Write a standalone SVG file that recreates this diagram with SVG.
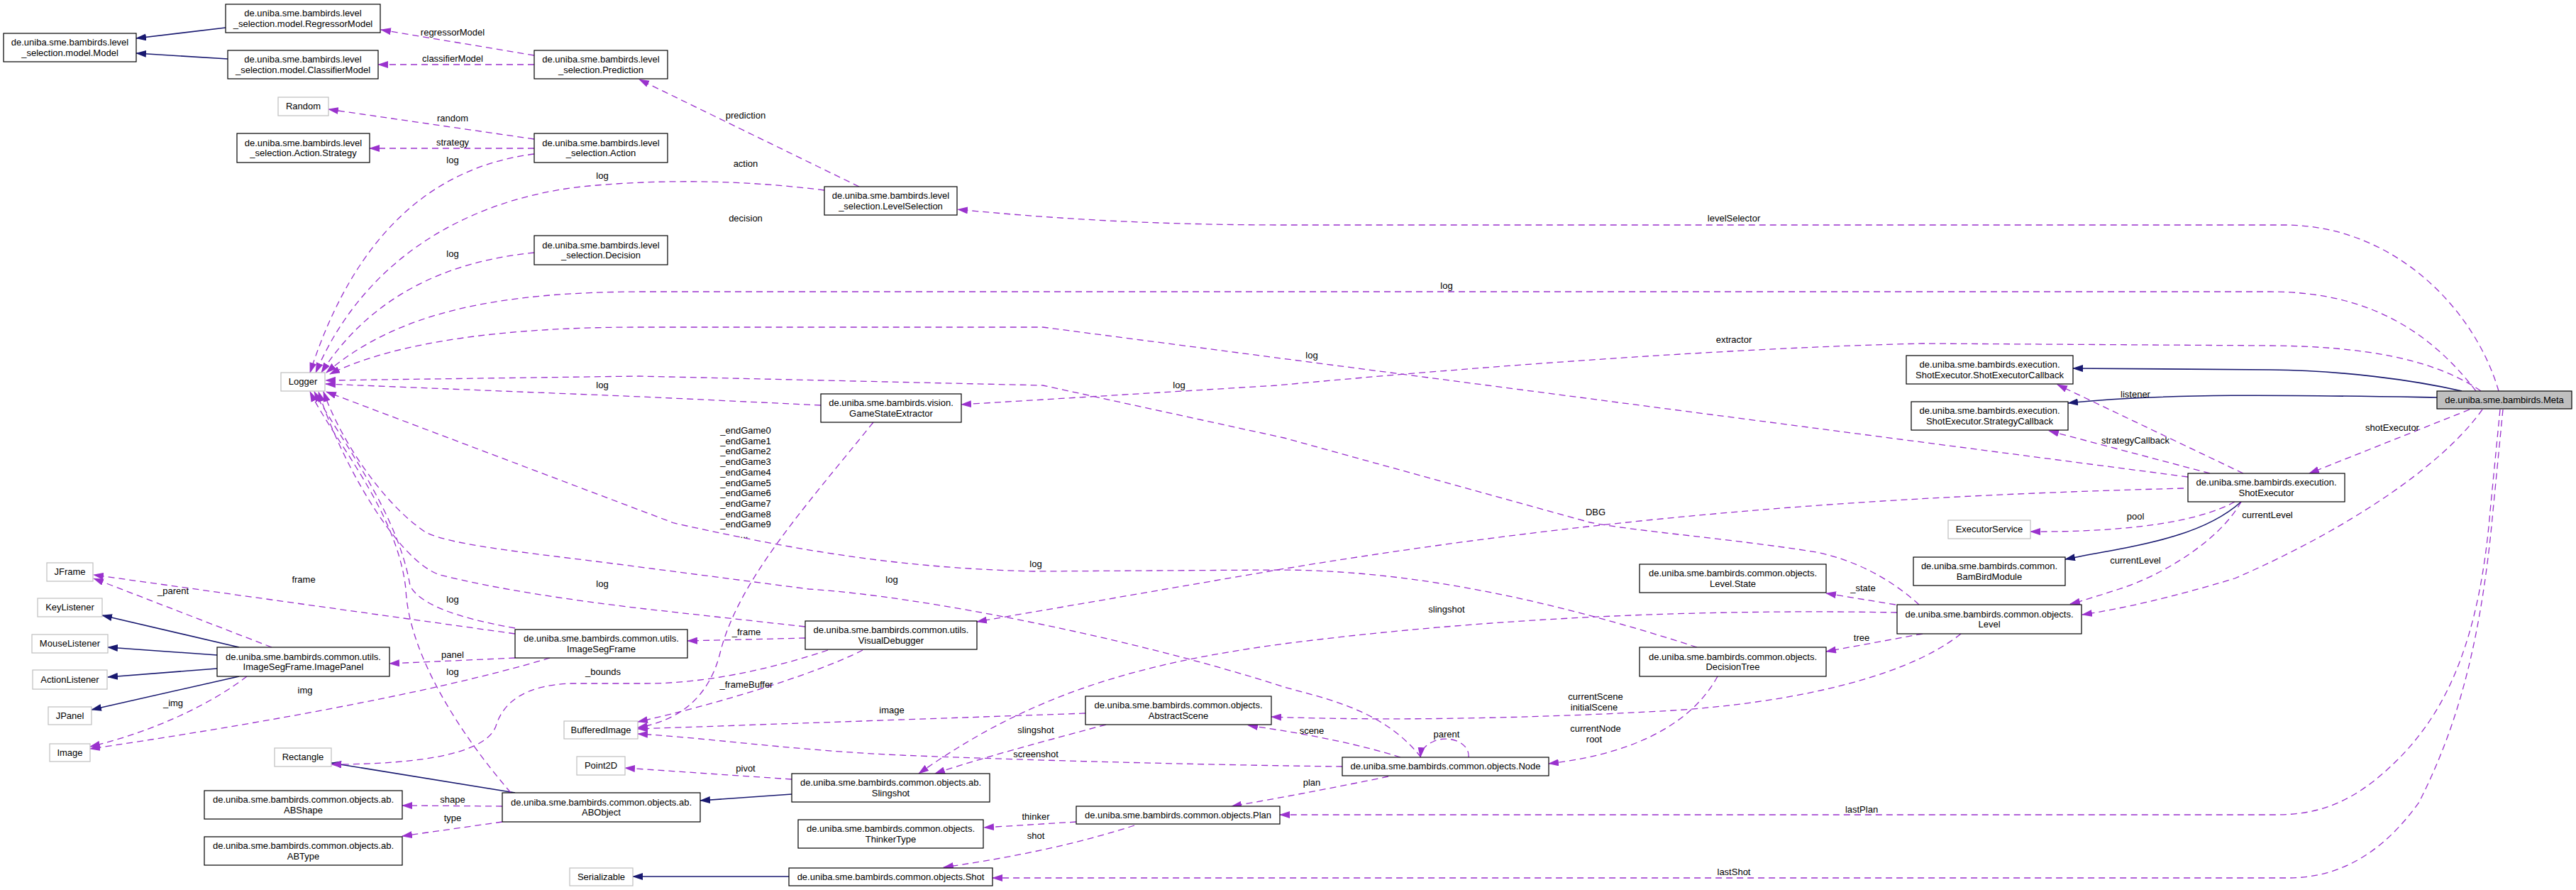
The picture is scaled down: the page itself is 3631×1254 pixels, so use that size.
<svg xmlns="http://www.w3.org/2000/svg" width="3631" height="1254" viewBox="0 0 3631 1254">
<defs>
<marker id="ap" viewBox="0 0 15 10" refX="14" refY="5" markerWidth="15" markerHeight="10" orient="auto" markerUnits="userSpaceOnUse"><path d="M0,0 L15,5 L0,10 z" fill="#9a32cd"/></marker>
<marker id="an" viewBox="0 0 15 10" refX="14" refY="5" markerWidth="15" markerHeight="10" orient="auto" markerUnits="userSpaceOnUse"><path d="M0,0 L15,5 L0,10 z" fill="#191970"/></marker>
</defs>
<style>
text{font-family:"Liberation Sans",Arial,sans-serif;font-size:13px;fill:#000;text-anchor:middle}
.n rect{fill:#fff;stroke:#000;stroke-width:1.2}
.x rect{fill:#fff;stroke:#bfbfbf;stroke-width:1.2}
.m rect{fill:#bfbfbf;stroke:#000;stroke-width:1.2}
.d{fill:none;stroke:#9a32cd;stroke-width:1.3;stroke-dasharray:9,6;marker-end:url(#ap)}
.s{fill:none;stroke:#191970;stroke-width:1.6;marker-end:url(#an)}
</style>
<rect width="3631" height="1254" fill="#fff"/>
<g id="edges">
<path class="s" d="M318,39 L192,54"/>
<path class="s" d="M321,83 L192,75"/>
<path class="s" d="M3470,551 C3400,535 3300,522 3200,521 L2922,519"/>
<path class="s" d="M3435,560 C3250,557 3050,553 2915,568"/>
<path class="s" d="M3159,707 C3100,760 3000,770 2911,788"/>
<path class="s" d="M337,912 L144,867"/>
<path class="s" d="M306,923 L152,912"/>
<path class="s" d="M306,942 L152,954"/>
<path class="s" d="M337,953 L129,1000"/>
<path class="s" d="M726,1117 L467,1075"/>
<path class="s" d="M1116,1119 L987,1128"/>
<path class="s" d="M1112,1235 L892,1235"/>
<path class="d" d="M753,78 L537,42"/>
<path class="d" d="M753,91 L533,91"/>
<path class="d" d="M1211,263 L901,112"/>
<path class="d" d="M753,196 L463,154"/>
<path class="d" d="M753,209 L521,209"/>
<path class="d" d="M753,217 C610,235 500,330 437,525"/>
<path class="d" d="M1162,268 C1050,254 940,252 830,262 C680,276 520,350 445,525"/>
<path class="d" d="M753,356 C650,366 530,405 453,525"/>
<path class="d" d="M3490,551 C3420,460 3330,411 3200,411 L910,411 C700,411 560,440 460,525"/>
<path class="d" d="M3084,672 L1470,461 L900,461 C720,461 560,480 465,527"/>
<path class="d" d="M2705,852 C2670,820 2620,790 2560,778 C2450,760 2300,748 2241,736 L1810,617 L1470,543 L900,530 L459,536"/>
<path class="d" d="M1157,571 L905,559 L459,541"/>
<path class="d" d="M3497,551 C3430,505 3330,488 3200,487 L2710,484 C2450,490 2100,515 1800,543 L1355,570"/>
<path class="d" d="M3522,551 C3490,440 3380,320 3225,317 L1810,317 C1650,317 1500,310 1350,295"/>
<path class="d" d="M3481,577 L3255,667"/>
<path class="d" d="M3499,577 C3440,660 3300,750 3150,815 C3060,842 2990,858 2935,866"/>
<path class="d" d="M3524,577 L3510,720 C3495,900 3450,1000 3380,1070 C3320,1130 3270,1148 3208,1148 L1804,1148"/>
<path class="d" d="M3528,577 L3514,720 C3495,930 3455,1040 3410,1130 C3360,1200 3300,1237 3225,1237 L1399,1237"/>
<path class="d" d="M3162,667 L2900,542"/>
<path class="d" d="M3115,667 L2888,607"/>
<path class="d" d="M3150,707 C3100,735 3000,750 2862,749"/>
<path class="d" d="M3159,707 C3130,760 3050,810 2987,830 C2950,842 2930,848 2918,851"/>
<path class="d" d="M3078,688 C2700,698 2300,720 1800,803 L1377,876"/>
<path class="d" d="M2672,852 L2574,836"/>
<path class="d" d="M2710,893 L2574,918"/>
<path class="d" d="M2674,863 C2400,858 2100,870 1810,907 C1600,935 1450,980 1295,1090"/>
<path class="d" d="M2764,893 C2680,960 2500,995 2322,1003 C2150,1012 1950,1016 1792,1010"/>
<path class="d" d="M2392,912 C2200,850 2000,803 1800,803 L1457,805 C1250,800 1100,770 950,737 L460,552"/>
<path class="d" d="M2421,953 C2390,1010 2320,1060 2183,1076"/>
<path class="d" d="M2070,1067 C2072,1045 2040,1035 2020,1045 C2008,1050 2003,1058 2002,1067"/>
<path class="d" d="M2003,1067 C1950,1000 1870,985 1810,968 C1600,900 1300,840 1140,830 L910,800 C760,780 640,770 600,750 C540,710 480,620 456,552"/>
<path class="d" d="M1974,1067 C1920,1050 1850,1035 1759,1022"/>
<path class="d" d="M1892,1080 C1700,1078 1400,1070 1248,1063 C1100,1055 1000,1040 899,1034"/>
<path class="d" d="M1957,1094 C1880,1110 1800,1125 1736,1136"/>
<path class="d" d="M1517,1158 L1387,1166"/>
<path class="d" d="M1599,1163 C1500,1195 1400,1212 1330,1222"/>
<path class="d" d="M1530,1005 L899,1027"/>
<path class="d" d="M1559,1021 C1450,1050 1360,1075 1318,1090"/>
<path class="d" d="M1135,899 L969,903"/>
<path class="d" d="M1216,916 C1150,950 1000,995 899,1017"/>
<path class="d" d="M1167,916 C1080,945 990,963 910,963 L805,963 C740,965 710,990 700,1020 C690,1060 600,1077 467,1077"/>
<path class="d" d="M1231,595 C1130,720 1040,820 1015,920 C1000,980 960,1015 899,1025"/>
<path class="d" d="M1135,883 L910,858 C800,845 700,830 620,810 C560,790 480,650 449,552"/>
<path class="d" d="M726,885 C640,870 590,850 578,825 C560,720 480,620 443,552"/>
<path class="d" d="M720,1117 C620,1000 575,900 572,830 C560,720 470,620 437,552"/>
<path class="d" d="M726,927 L549,935"/>
<path class="d" d="M775,927 C600,980 300,1030 127,1055"/>
<path class="d" d="M726,893 L132,810"/>
<path class="d" d="M383,912 L132,815"/>
<path class="d" d="M348,953 C300,990 220,1030 127,1052"/>
<path class="d" d="M708,1136 L567,1135"/>
<path class="d" d="M708,1158 L567,1178"/>
<path class="d" d="M1116,1098 L881,1082"/>
<g id="edge-labels">
<text x="638" y="50">regressorModel</text>
<text x="638" y="87">classifierModel</text>
<text x="1051" y="167">prediction</text>
<text x="638" y="171">random</text>
<text x="638" y="205">strategy</text>
<text x="638" y="230">log</text>
<text x="1051" y="235">action</text>
<text x="849" y="252">log</text>
<text x="1051" y="312">decision</text>
<text x="638" y="362">log</text>
<text x="2444" y="312">levelSelector</text>
<text x="2039" y="407">log</text>
<text x="2444" y="483">extractor</text>
<text x="1849" y="505">log</text>
<text x="849" y="547">log</text>
<text x="1662" y="547">log</text>
<text x="3010" y="560">listener</text>
<text x="3372" y="607">shotExecutor</text>
<text x="3010" y="625">strategyCallback</text>
<text x="1051" y="611">_endGame0<tspan x="1051" dy="14.7">_endGame1</tspan><tspan x="1051" dy="14.7">_endGame2</tspan><tspan x="1051" dy="14.7">_endGame3</tspan><tspan x="1051" dy="14.7">_endGame4</tspan><tspan x="1051" dy="14.7">_endGame5</tspan><tspan x="1051" dy="14.7">_endGame6</tspan><tspan x="1051" dy="14.7">_endGame7</tspan><tspan x="1051" dy="14.7">_endGame8</tspan><tspan x="1051" dy="14.7">_endGame9</tspan><tspan x="1049" dy="14.7">...</tspan></text>
<text x="2249" y="726">DBG</text>
<text x="3010" y="732">pool</text>
<text x="3196" y="730">currentLevel</text>
<text x="3010" y="794">currentLevel</text>
<text x="1460" y="799">log</text>
<text x="428" y="821">frame</text>
<text x="1257" y="821">log</text>
<text x="849" y="827">log</text>
<text x="2626" y="833">_state</text>
<text x="244" y="837">_parent</text>
<text x="638" y="849">log</text>
<text x="2039" y="863">slingshot</text>
<text x="1052" y="895">_frame</text>
<text x="2624" y="903">tree</text>
<text x="638" y="927">panel</text>
<text x="850" y="951">_bounds</text>
<text x="638" y="951">log</text>
<text x="1052" y="969">_frameBuffer</text>
<text x="430" y="977">img</text>
<text x="2249" y="986">currentScene</text>
<text x="2247" y="1001">initialScene</text>
<text x="244" y="995">_img</text>
<text x="1257" y="1005">image</text>
<text x="1460" y="1033">slingshot</text>
<text x="2249" y="1031">currentNode</text>
<text x="2247" y="1046">root</text>
<text x="1849" y="1034">scene</text>
<text x="2039" y="1039">parent</text>
<text x="1460" y="1067">screenshot</text>
<text x="1051" y="1087">pivot</text>
<text x="1849" y="1107">plan</text>
<text x="638" y="1131">shape</text>
<text x="2624" y="1145">lastPlan</text>
<text x="1460" y="1155">thinker</text>
<text x="638" y="1157">type</text>
<text x="1460" y="1182">shot</text>
<text x="2444" y="1233">lastShot</text>
</g>
</g>
<g id="nodes">
<g id="n-model" class="n"><rect x="5" y="47" width="187" height="40"/><text x="98.5" y="64">de.uniba.sme.bambirds.level</text><text x="98.5" y="78.5">_selection.model.Model</text></g>
<g id="n-regressor" class="n"><rect x="318" y="6" width="218" height="40"/><text x="427" y="23">de.uniba.sme.bambirds.level</text><text x="427" y="37.5">_selection.model.RegressorModel</text></g>
<g id="n-classifier" class="n"><rect x="321" y="71" width="212" height="40"/><text x="427" y="88">de.uniba.sme.bambirds.level</text><text x="427" y="102.5">_selection.model.ClassifierModel</text></g>
<g id="n-prediction" class="n"><rect x="753" y="71" width="188" height="40"/><text x="847" y="88">de.uniba.sme.bambirds.level</text><text x="847" y="102.5">_selection.Prediction</text></g>
<g id="n-random" class="x"><rect x="392" y="137" width="71" height="26"/><text x="427.5" y="154">Random</text></g>
<g id="n-strategy" class="n"><rect x="334" y="188" width="187" height="41"/><text x="427.5" y="205.5">de.uniba.sme.bambirds.level</text><text x="427.5" y="220">_selection.Action.Strategy</text></g>
<g id="n-action" class="n"><rect x="753" y="188" width="188" height="41"/><text x="847" y="205.5">de.uniba.sme.bambirds.level</text><text x="847" y="220">_selection.Action</text></g>
<g id="n-decision" class="n"><rect x="753" y="332" width="188" height="41"/><text x="847" y="349.5">de.uniba.sme.bambirds.level</text><text x="847" y="364">_selection.Decision</text></g>
<g id="n-levelselection" class="n"><rect x="1162" y="263" width="187" height="40"/><text x="1255.5" y="280">de.uniba.sme.bambirds.level</text><text x="1255.5" y="294.5">_selection.LevelSelection</text></g>
<g id="n-logger" class="x"><rect x="396" y="525" width="62" height="26"/><text x="427" y="542">Logger</text></g>
<g id="n-gse" class="n"><rect x="1157" y="555" width="198" height="40"/><text x="1256" y="572">de.uniba.sme.bambirds.vision.</text><text x="1256" y="586.5">GameStateExtractor</text></g>
<g id="n-secallback" class="n"><rect x="2687" y="501" width="235" height="40"/><text x="2804.5" y="518">de.uniba.sme.bambirds.execution.</text><text x="2804.5" y="532.5">ShotExecutor.ShotExecutorCallback</text></g>
<g id="n-stratcallback" class="n"><rect x="2694" y="566" width="221" height="40"/><text x="2804.5" y="583">de.uniba.sme.bambirds.execution.</text><text x="2804.5" y="597.5">ShotExecutor.StrategyCallback</text></g>
<g id="n-meta" class="m"><rect x="3435" y="551" width="190" height="25"/><text x="3530" y="567.5">de.uniba.sme.bambirds.Meta</text></g>
<g id="n-shotexecutor" class="n"><rect x="3084" y="667" width="221" height="40"/><text x="3194.5" y="684">de.uniba.sme.bambirds.execution.</text><text x="3194.5" y="698.5">ShotExecutor</text></g>
<g id="n-executorservice" class="x"><rect x="2746" y="733" width="116" height="26"/><text x="2804" y="750">ExecutorService</text></g>
<g id="n-bambirdmodule" class="n"><rect x="2697" y="785" width="214" height="40"/><text x="2804" y="802">de.uniba.sme.bambirds.common.</text><text x="2804" y="816.5">BamBirdModule</text></g>
<g id="n-levelstate" class="n"><rect x="2311" y="795" width="263" height="40"/><text x="2442.5" y="812">de.uniba.sme.bambirds.common.objects.</text><text x="2442.5" y="826.5">Level.State</text></g>
<g id="n-level" class="n"><rect x="2674" y="852" width="260" height="41"/><text x="2804" y="869.5">de.uniba.sme.bambirds.common.objects.</text><text x="2804" y="884">Level</text></g>
<g id="n-decisiontree" class="n"><rect x="2311" y="912" width="263" height="41"/><text x="2442.5" y="929.5">de.uniba.sme.bambirds.common.objects.</text><text x="2442.5" y="944">DecisionTree</text></g>
<g id="n-jframe" class="x"><rect x="66" y="793" width="65" height="26"/><text x="98.5" y="810">JFrame</text></g>
<g id="n-keylistener" class="x"><rect x="53" y="843" width="91" height="26"/><text x="98.5" y="860">KeyListener</text></g>
<g id="n-mouselistener" class="x"><rect x="45" y="894" width="107" height="26"/><text x="98.5" y="911">MouseListener</text></g>
<g id="n-actionlistener" class="x"><rect x="46" y="944" width="105" height="27"/><text x="98.5" y="961.5">ActionListener</text></g>
<g id="n-jpanel" class="x"><rect x="68" y="996" width="61" height="25"/><text x="98.5" y="1012.5">JPanel</text></g>
<g id="n-image" class="x"><rect x="70" y="1048" width="57" height="25"/><text x="98.5" y="1064.5">Image</text></g>
<g id="n-imagepanel" class="n"><rect x="306" y="912" width="243" height="41"/><text x="427.5" y="929.5">de.uniba.sme.bambirds.common.utils.</text><text x="427.5" y="944">ImageSegFrame.ImagePanel</text></g>
<g id="n-imagesegframe" class="n"><rect x="726" y="887" width="243" height="40"/><text x="847.5" y="904">de.uniba.sme.bambirds.common.utils.</text><text x="847.5" y="918.5">ImageSegFrame</text></g>
<g id="n-visualdebugger" class="n"><rect x="1135" y="875" width="242" height="40"/><text x="1256" y="892">de.uniba.sme.bambirds.common.utils.</text><text x="1256" y="906.5">VisualDebugger</text></g>
<g id="n-bufferedimage" class="x"><rect x="795" y="1016" width="104" height="25"/><text x="847" y="1032.5">BufferedImage</text></g>
<g id="n-abstractscene" class="n"><rect x="1530" y="981" width="262" height="40"/><text x="1661" y="998">de.uniba.sme.bambirds.common.objects.</text><text x="1661" y="1012.5">AbstractScene</text></g>
<g id="n-rectangle" class="x"><rect x="387" y="1054" width="80" height="26"/><text x="427" y="1071">Rectangle</text></g>
<g id="n-point2d" class="x"><rect x="813" y="1066" width="68" height="26"/><text x="847" y="1083">Point2D</text></g>
<g id="n-abshape" class="n"><rect x="288" y="1114" width="279" height="40"/><text x="427.5" y="1131">de.uniba.sme.bambirds.common.objects.ab.</text><text x="427.5" y="1145.5">ABShape</text></g>
<g id="n-abtype" class="n"><rect x="288" y="1179" width="279" height="40"/><text x="427.5" y="1196">de.uniba.sme.bambirds.common.objects.ab.</text><text x="427.5" y="1210.5">ABType</text></g>
<g id="n-abobject" class="n"><rect x="708" y="1117" width="279" height="41"/><text x="847.5" y="1134.5">de.uniba.sme.bambirds.common.objects.ab.</text><text x="847.5" y="1149">ABObject</text></g>
<g id="n-slingshot" class="n"><rect x="1116" y="1090" width="279" height="40"/><text x="1255.5" y="1107">de.uniba.sme.bambirds.common.objects.ab.</text><text x="1255.5" y="1121.5">Slingshot</text></g>
<g id="n-node" class="n"><rect x="1892" y="1067" width="291" height="26"/><text x="2037.5" y="1084">de.uniba.sme.bambirds.common.objects.Node</text></g>
<g id="n-plan" class="n"><rect x="1517" y="1136" width="287" height="25"/><text x="1660.5" y="1152.5">de.uniba.sme.bambirds.common.objects.Plan</text></g>
<g id="n-thinkertype" class="n"><rect x="1125" y="1155" width="261" height="40"/><text x="1255.5" y="1172">de.uniba.sme.bambirds.common.objects.</text><text x="1255.5" y="1186.5">ThinkerType</text></g>
<g id="n-shot" class="n"><rect x="1112" y="1223" width="287" height="25"/><text x="1255.5" y="1239.5">de.uniba.sme.bambirds.common.objects.Shot</text></g>
<g id="n-serializable" class="x"><rect x="803" y="1223" width="89" height="25"/><text x="847.5" y="1239.5">Serializable</text></g>
</g>
</svg>
